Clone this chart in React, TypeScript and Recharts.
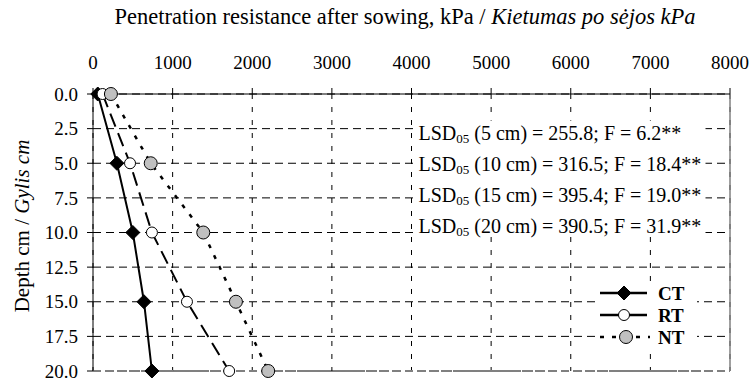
import { LineChart, Line, XAxis, YAxis, CartesianGrid, ReferenceLine, ReferenceDot } from 'recharts';

const depths = [0, 5, 10, 15, 20];
const ctValues = [60, 300, 500, 640, 740];
const rtValues = [120, 465, 740, 1180, 1710];
const ntValues = [225, 725, 1385, 1795, 2200];

const xTicks = [0, 1000, 2000, 3000, 4000, 5000, 6000, 7000, 8000];
const yTicks = [0, 2.5, 5, 7.5, 10, 12.5, 15, 17.5, 20];

// LSD notes (text box anchored at 4000 kPa / 2.5 cm)
const noteDepths = ['5', '10', '15', '20'];
const lsdValues = ['255.8', '316.5', '395.4', '390.5'];
const fValues = ['6.2', '18.4', '19.0', '31.9'];

const seriesNames = ['CT', 'RT', 'NT'];

const data = depths.map((d, i) => ({ depth: d, CT: ctValues[i], RT: rtValues[i], NT: ntValues[i] }));

const FONT = '"Liberation Serif", "DejaVu Serif", serif';

const Diamond = ({ cx, cy }: { cx: number; cy: number }) => (
  <path d={`M${cx},${cy - 7} L${cx + 7},${cy} L${cx},${cy + 7} L${cx - 7},${cy} Z`} fill="#000" stroke="#000" />
);

const Circle = ({ cx, cy, fill, r }: { cx: number; cy: number; fill: string; r: number }) => (
  <circle cx={cx} cy={cy} r={r} fill={fill} stroke="#000" strokeWidth={1} />
);

const Notes = ({ cx, cy }: any) => (
  <g>
    <rect x={cx + 4} y={cy - 8} width={290} height={116} fill="#fff" />
    {noteDepths.map((d, i) => (
      <text key={d} x={cx + 7} y={cy + 11 + i * 31} fontSize={20} style={{ fontFamily: FONT }} fill="#000">
        LSD<tspan fontSize={13} dy={3}>05</tspan>
        <tspan dy={-3}>{` (${d} cm) = ${lsdValues[i]}; F = ${fValues[i]}**`}</tspan>
      </text>
    ))}
  </g>
);

function LegendBox() {
  const rows = [11, 33, 55];
  return (
    <svg width={100} height={70} style={{ position: 'absolute', left: 597, top: 282 }}>
      <rect x={0} y={0} width={100} height={70} fill="#fff" />
      {seriesNames.map((name, i) => {
        const y = rows[i];
        return (
          <g key={name}>
            <line
              x1={3}
              x2={i === 2 ? 53 : 50}
              y1={y}
              y2={y}
              stroke="#000"
              strokeWidth={i === 2 ? 2.5 : 2.5}
              strokeDasharray={i === 2 ? '4 8' : undefined}
            />
            {i === 0 && <Diamond cx={27} cy={y} />}
            {i === 1 && <Circle cx={27} cy={y} r={5.5} fill="#fff" />}
            {i === 2 && <Circle cx={29} cy={y} r={6.5} fill="#c0c0c0" />}
            <text x={61} y={y + 7} fontSize={19} fontWeight="bold" style={{ fontFamily: FONT }} fill="#000">
              {name}
            </text>
          </g>
        );
      })}
    </svg>
  );
}

export default function App() {
  return (
    <div style={{ position: 'absolute', left: 0, top: 0, width: 751, height: 381, background: '#fff', fontFamily: FONT }}>
      <LineChart
        width={751}
        height={381}
        data={data}
        layout="vertical"
        margin={{ top: 54, right: 21, left: 53, bottom: 10 }}
        style={{ fontFamily: FONT }}
      >
        <CartesianGrid vertical={false} stroke="#000" strokeDasharray="8 5" />
        <CartesianGrid horizontal={false} stroke="#000" strokeDasharray="5 8" />
        <XAxis
          type="number"
          orientation="top"
          domain={[0, 8000]}
          ticks={xTicks}
          interval={0}
          height={40}
          axisLine={{ stroke: '#000' }}
          tickLine={{ stroke: '#000' }}
          tickSize={6}
          tickMargin={19}
          tick={{ fill: '#000', fontSize: 19, fontFamily: FONT }}
          label={{
            content: () => (
              <text x={405} y={24} textAnchor="middle" fontSize={22.5} style={{ fontFamily: FONT }} fill="#000">
                Penetration resistance after sowing, kPa / <tspan fontStyle="italic">Kietumas po sėjos kPa</tspan>
              </text>
            ),
          }}
        />
        <YAxis
          type="number"
          dataKey="depth"
          domain={[0, 20]}
          ticks={yTicks}
          interval={0}
          width={40}
          axisLine={{ stroke: '#000' }}
          tickLine={{ stroke: '#000' }}
          tickSize={6}
          tickMargin={9}
          tickFormatter={(v: number) => v.toFixed(1)}
          tick={{ fill: '#000', fontSize: 19, fontFamily: FONT }}
          label={{
            content: () => (
              <text
                x={22}
                y={226}
                transform="rotate(-90 22 226)"
                textAnchor="middle"
                dominantBaseline="central"
                fontSize={21}
                style={{ fontFamily: FONT }}
                fill="#000"
              >
                Depth cm / <tspan fontStyle="italic">Gylis cm</tspan>
              </text>
            ),
          }}
        />
        <ReferenceLine x={8000} stroke="#808080" strokeWidth={1.5} />
        <ReferenceLine y={20} stroke="#808080" strokeWidth={2} strokeDasharray="8 4" />
        <ReferenceDot x={4000} y={2.5} r={0} shape={(p: any) => <Notes cx={p.cx} cy={p.cy} />} />
        <Line
          dataKey="CT"
          stroke="#000"
          strokeWidth={2}
          isAnimationActive={false}
          dot={(p: any) => <Diamond key={`ct-${p.index}`} cx={p.cx} cy={p.cy} />}
        />
        <Line
          dataKey="RT"
          stroke="#000"
          strokeWidth={2}
          strokeDasharray="14 7"
          isAnimationActive={false}
          dot={(p: any) => <Circle key={`rt-${p.index}`} cx={p.cx} cy={p.cy} r={5.5} fill="#fff" />}
        />
        <Line
          dataKey="NT"
          stroke="#000"
          strokeWidth={2.5}
          strokeDasharray="4 8"
          isAnimationActive={false}
          dot={(p: any) => <Circle key={`nt-${p.index}`} cx={p.cx} cy={p.cy} r={6.5} fill="#c0c0c0" />}
        />
      </LineChart>
      <LegendBox />
    </div>
  );
}
